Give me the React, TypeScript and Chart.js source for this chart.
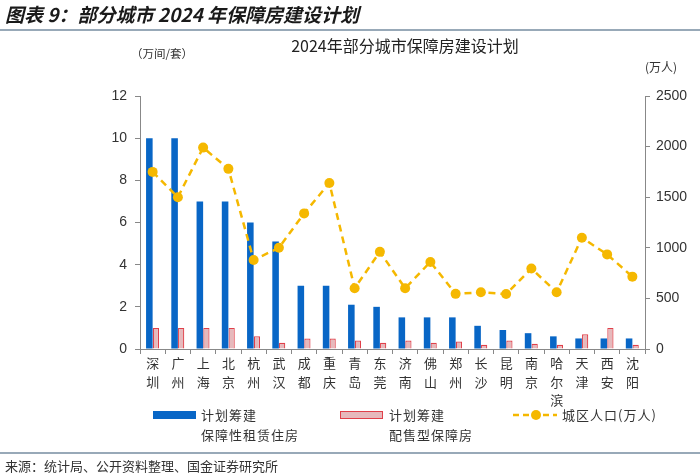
import React, { useEffect, useRef } from 'react';
import { Chart, registerables } from 'chart.js';

Chart.register(...registerables);

const cities = ['深圳', '广州', '上海', '北京', '杭州', '武汉', '成都', '重庆', '青岛', '东莞', '济南', '佛山', '郑州', '长沙', '昆明', '南京', '哈尔滨', '天津', '西安', '沈阳'];
const rentalHousing = [10, 10, 7, 7, 6, 5.1, 3, 3, 2.1, 2, 1.5, 1.5, 1.5, 1.1, 0.9, 0.75, 0.6, 0.5, 0.5, 0.5];
const saleHousing = [1, 1, 1, 1, 0.6, 0.3, 0.5, 0.5, 0.4, 0.3, 0.4, 0.3, 0.35, 0.2, 0.4, 0.25, 0.2, 0.7, 1, 0.2];
const population = [1750, 1500, 1990, 1780, 880, 1000, 1340, 1640, 600, 960, 600, 860, 545, 560, 543, 795, 560, 1100, 935, 715];
const leftMax = 12;
const leftStep = 2;
const rightMax = 2500;
const rightStep = 500;

const BLUE = '#0866C6';
const PINK_FILL = '#E6B9BC';
const PINK_BORDER = '#E0404A';
const GOLD = '#F5B800';
const TEXT = '#333333';
const CJK = '"Noto Sans CJK SC", "Noto Sans", sans-serif';
const LATIN = '"Liberation Sans", Arial, sans-serif';

export default function App() {
  const ref = useRef<HTMLCanvasElement | null>(null);

  useEffect(() => {
    if (!ref.current) return;
    const chart = new Chart(ref.current, {
      type: 'bar',
      data: {
        labels: cities.map((c) => c.split('')),
        datasets: [
          {
            type: 'line',
            label: '城区人口(万人)',
            data: population,
            yAxisID: 'y1',
            borderColor: GOLD,
            backgroundColor: GOLD,
            borderWidth: 2.5,
            borderDash: [7, 5],
            pointRadius: 5,
            pointBackgroundColor: GOLD,
            pointBorderColor: GOLD,
            pointBorderWidth: 0,
            tension: 0,
            order: 0,
          } as any,
          {
            type: 'bar',
            label: '计划筹建保障性租赁住房',
            data: rentalHousing,
            yAxisID: 'y',
            backgroundColor: BLUE,
            borderWidth: 0,
            categoryPercentage: 0.52,
            barPercentage: 1.0,
            order: 1,
          },
          {
            type: 'bar',
            label: '计划筹建配售型保障房',
            data: saleHousing,
            yAxisID: 'y',
            backgroundColor: PINK_FILL,
            borderColor: PINK_BORDER,
            borderWidth: 1.2,
            categoryPercentage: 0.52,
            barPercentage: 0.95,
            order: 2,
          },
        ],
      },
      options: {
        responsive: false,
        animation: false,
        maintainAspectRatio: false,
        layout: { padding: { left: 95, right: 5, top: 96, bottom: 52 } },
        plugins: {
          legend: { display: false },
          tooltip: { enabled: false },
          title: { display: false },
        },
        scales: {
          x: {
            offset: true,
            grid: {
              offset: true,
              drawOnChartArea: false,
              drawTicks: true,
              tickLength: 5,
              color: '#888888',
            },
            border: { color: '#888888', width: 1 },
            ticks: {
              color: TEXT,
              font: { family: CJK, size: 13, lineHeight: 1.42 },
              padding: 0,
              maxRotation: 0,
              autoSkip: false,
            },
            afterFit: (s: any) => {
              s.height = 75;
            },
          },
          y: {
            position: 'left',
            min: 0,
            max: leftMax,
            ticks: {
              stepSize: leftStep,
              color: TEXT,
              font: { family: LATIN, size: 14 },
              padding: 8,
            },
            grid: { drawOnChartArea: false, tickLength: 5, color: '#888888' },
            border: { color: '#888888', width: 1 },
            afterFit: (s: any) => {
              s.width = 45;
            },
          },
          y1: {
            position: 'right',
            min: 0,
            max: rightMax,
            ticks: {
              stepSize: rightStep,
              color: TEXT,
              font: { family: LATIN, size: 14 },
              padding: 6,
              callback: (v: any) => String(v),
            },
            grid: { drawOnChartArea: false, tickLength: 5, color: '#888888' },
            border: { color: '#888888', width: 1 },
            afterFit: (s: any) => {
              s.width = 50;
            },
          },
        },
      },
    });
    return () => chart.destroy();
  }, []);

  const abs = (style: React.CSSProperties): React.CSSProperties => ({ position: 'absolute', ...style });

  return (
    <div style={{ position: 'fixed', left: 0, top: 0, width: 700, height: 476, background: '#fff', overflow: 'hidden', fontFamily: CJK, color: TEXT }}>
      <canvas ref={ref} width={700} height={476} style={{ position: 'absolute', left: 0, top: 0, width: 700, height: 476 }} />
      <div style={abs({ left: 5, top: 2, fontSize: 19, fontWeight: 700, fontStyle: 'italic', color: '#1a1a1a', whiteSpace: 'nowrap', lineHeight: '24px' })}>
        图表 9：部分城市 2024 年保障房建设计划
      </div>
      <div style={abs({ left: 0, top: 29, width: 700, height: 2, background: '#98A9B8' })} />
      <div style={abs({ left: 0, width: 700, top: 35, textAlign: 'center', paddingLeft: 110, boxSizing: 'border-box', fontSize: 16, lineHeight: '20px', whiteSpace: 'nowrap', color: '#222' })}>
        2024年部分城市保障房建设计划
      </div>
      <div style={abs({ left: 131, top: 45, fontSize: 11.5, lineHeight: '16px', whiteSpace: 'nowrap' })}>（万间/套）</div>
      <div style={abs({ left: 645, top: 59, fontSize: 12, lineHeight: '16px', whiteSpace: 'nowrap' })}>(万人)</div>

      <div style={abs({ left: 153, top: 411, width: 43, height: 8, background: BLUE })} />
      <div style={abs({ left: 201, top: 405, fontSize: 13, lineHeight: '20px', letterSpacing: 1, whiteSpace: 'nowrap' })}>
        计划筹建<br />
        保障性租赁住房
      </div>
      <div style={abs({ left: 340, top: 411, width: 43, height: 8, background: PINK_FILL, border: `1.5px solid ${PINK_BORDER}`, boxSizing: 'border-box' })} />
      <div style={abs({ left: 389, top: 405, fontSize: 13, lineHeight: '20px', letterSpacing: 1, whiteSpace: 'nowrap' })}>
        计划筹建<br />
        配售型保障房
      </div>
      <svg style={abs({ left: 510, top: 405, width: 50, height: 20 })} width={50} height={20}>
        <line x1={3} y1={10} x2={47} y2={10} stroke={GOLD} strokeWidth={2.5} strokeDasharray="6 4" />
        <circle cx={26} cy={10} r={5} fill={GOLD} />
      </svg>
      <div style={abs({ left: 562, top: 405, fontSize: 13, lineHeight: '20px', letterSpacing: 1, whiteSpace: 'nowrap' })}>城区人口(万人)</div>

      <div style={abs({ left: 0, top: 452, width: 700, height: 2, background: '#98A9B8' })} />
      <div style={abs({ left: 5, top: 457, fontSize: 13, lineHeight: '18px', whiteSpace: 'nowrap' })}>来源：统计局、公开资料整理、国金证券研究所</div>
    </div>
  );
}
